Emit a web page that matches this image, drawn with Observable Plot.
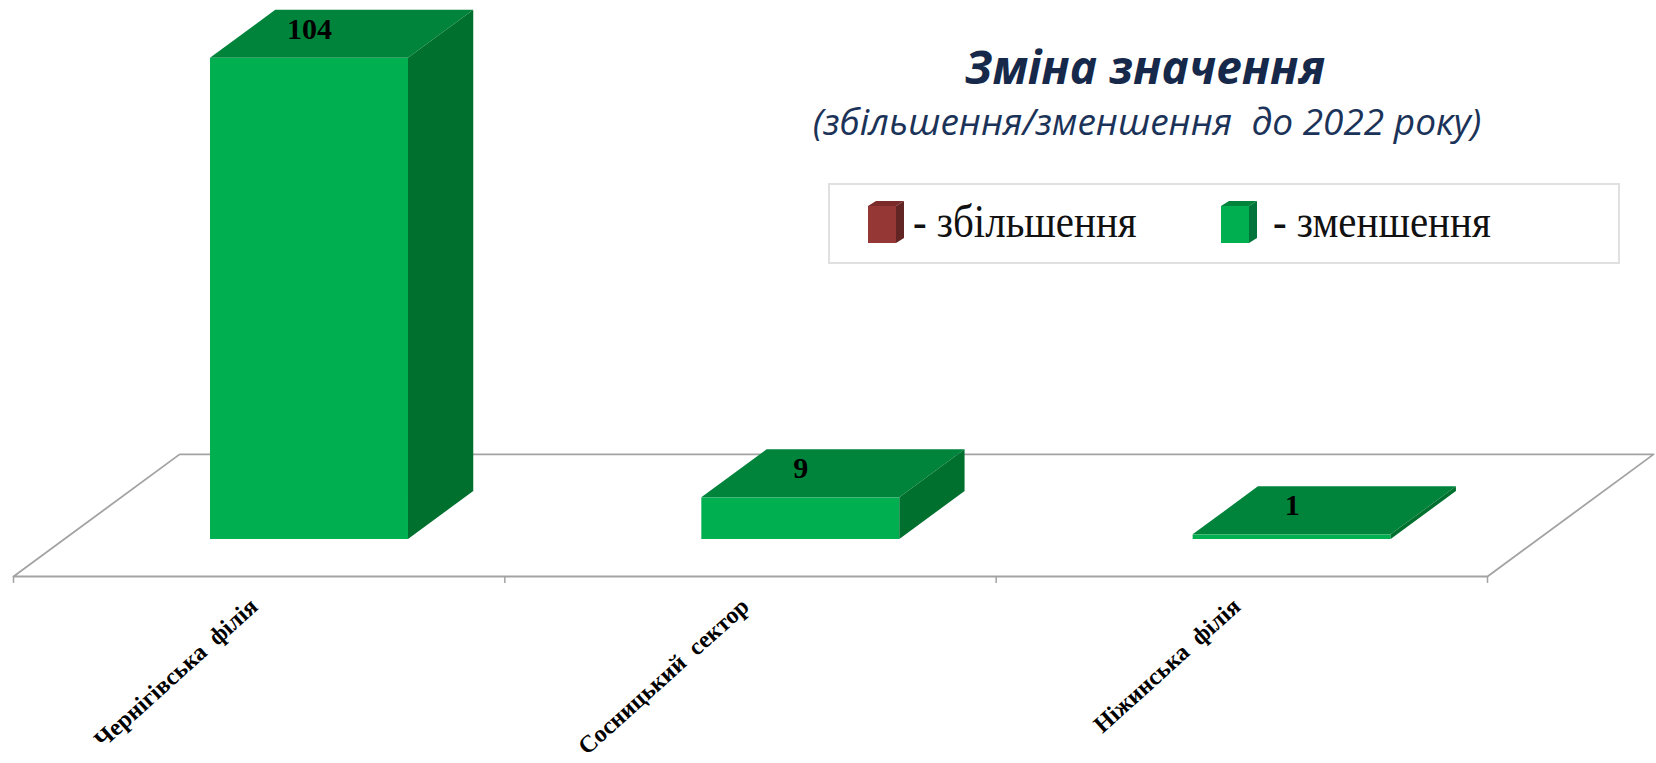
<!DOCTYPE html>
<html><head><meta charset="utf-8">
<script src="https://cdn.jsdelivr.net/npm/d3@7"></script>
<script src="https://cdn.jsdelivr.net/npm/@observablehq/plot@0.6"></script>
<style>html,body{margin:0;padding:0;background:#fff;overflow:hidden}</style>
</head><body><div id="chart"></div>
<script>
const categories = ["Чернігівська  філія", "Сосницький  сектор", "Ніжинська  філія"];
const values = [104, 9, 1];
const barLabels = ["104", "9", "1"];
const legendLabels = ["- збільшення", "- зменшення"];
const legendColors = [["#953735", "#632523", "#7a2b2a"], ["#00b050", "#00743a", "#00843c"]];
const titleText = "Зміна значення";
const subtitleText = "(збільшення/зменшення  до 2022 року)";

// 3-D geometry, in data units
const floorFront = -8;       // value units below zero at front edge of floor
const floorDepthY = 26.4;    // value units
const floorDepthX = 0.338;   // category units
const barStart = 0.303, barDepth = 0.393; // fractions of floor depth
const barWidth = 0.403;      // category units

const n = categories.length;
const bars = categories.map((name, i) => {
  const cx = i + barStart * floorDepthX;
  const base = floorFront + barStart * floorDepthY;
  return {name, i, value: values[i], label: barLabels[i],
    x1: cx - barWidth / 2, x2: cx + barWidth / 2, cx, base, top: base + values[i]};
});
const ddx = barDepth * floorDepthX, ddy = barDepth * floorDepthY;
const topFaces = bars.flatMap(b => [
  {name: b.name, y: b.top, x1: b.x1, x2: b.x2},
  {name: b.name, y: b.top + ddy, x1: b.x1 + ddx, x2: b.x2 + ddx}]);
const sideFaces = bars.flatMap(b => [
  {name: b.name, x: b.x2, y1: b.base, y2: b.top},
  {name: b.name, x: b.x2 + ddx, y1: b.base + ddy, y2: b.top + ddy}]);
const floor = [
  {x: -0.5, y: floorFront}, {x: n - 0.5, y: floorFront},
  {x: n - 0.5 + floorDepthX, y: floorFront + floorDepthY},
  {x: -0.5 + floorDepthX, y: floorFront + floorDepthY},
  {x: -0.5, y: floorFront}];
const tickPos = d3.range(n + 1).map(i => i - 0.5);

const svg = Plot.plot({
  width: 1656, height: 763,
  marginLeft: 13, marginRight: 169, marginTop: 0, marginBottom: 187,
  x: {domain: [-0.5, n - 0.5], axis: null},
  y: {domain: [floorFront, 116.5], axis: null},
  style: {background: "white", fontFamily: "Liberation Serif"},
  marks: [
    Plot.line(floor, {x: "x", y: "y", stroke: "#a3a3a3", strokeWidth: 1.8}),
    Plot.ruleX(tickPos, {x: d => d, y1: floorFront, y2: floorFront - 1.5, stroke: "#a3a3a3", strokeWidth: 1.5}),
    Plot.rect(bars, {x1: "x1", x2: "x2", y1: "base", y2: "top", fill: "#00b050"}),
    Plot.areaX(topFaces, {y: "y", x1: "x1", x2: "x2", z: "name", fill: "#00843c"}),
    Plot.areaY(sideFaces, {x: "x", y1: "y1", y2: "y2", z: "name", fill: "#00702f"}),
    Plot.text(bars, {x: "cx", y: "top", text: "label", dy: -29, fontSize: 30, fontWeight: "bold", fill: "black", fontFamily: "Liberation Serif"}),
    Plot.text(bars, {x: "i", text: "name", frameAnchor: "bottom", dy: 32, textAnchor: "end", rotate: -42,
      fontSize: 24, fontWeight: "bold", fill: "black", fontFamily: "Liberation Serif"})
  ]
});

const s = d3.select(svg);
s.append("text").attr("x", 1145).attr("y", 84).attr("text-anchor", "middle")
  .attr("font-family", "'Open Sans', 'Noto Sans', sans-serif").attr("font-weight", "bold").attr("font-style", "italic")
  .attr("font-size", 46).attr("fill", "#16294a").text(titleText);
s.append("text").attr("x", 1147).attr("y", 135).attr("text-anchor", "middle")
  .attr("font-family", "'Open Sans', 'Noto Sans', sans-serif").attr("font-style", "italic")
  .attr("font-size", 37).attr("fill", "#1b3358").text(subtitleText);

// legend
const lg = s.append("g").attr("text-anchor", "start");
lg.append("rect").attr("x", 829).attr("y", 184).attr("width", 790).attr("height", 79)
  .attr("fill", "white").attr("stroke", "#e0e0e0").attr("stroke-width", 2);
const iconX = [868, 1221], textX = [913, 1273];
legendLabels.forEach((lab, k) => {
  const x0 = iconX[k], [cf, cs, ct] = legendColors[k];
  const g = lg.append("g");
  g.append("polygon").attr("points", `${x0},206 ${x0+8},201 ${x0+36},201 ${x0+28},206`).attr("fill", ct);
  g.append("polygon").attr("points", `${x0+28},206 ${x0+36},201 ${x0+36},238 ${x0+28},243`).attr("fill", cs);
  g.append("rect").attr("x", x0).attr("y", 206).attr("width", 28).attr("height", 37).attr("fill", cf);
  lg.append("text").attr("x", textX[k]).attr("y", 237).attr("text-anchor", "start")
    .attr("font-family", "'Liberation Serif', serif").attr("font-size", 46)
    .attr("transform", `translate(${textX[k]},0) scale(0.89,1) translate(${-textX[k]},0)`)
    .attr("fill", "#111").text(lab);
});

document.getElementById("chart").appendChild(svg);
</script>
</body></html>
